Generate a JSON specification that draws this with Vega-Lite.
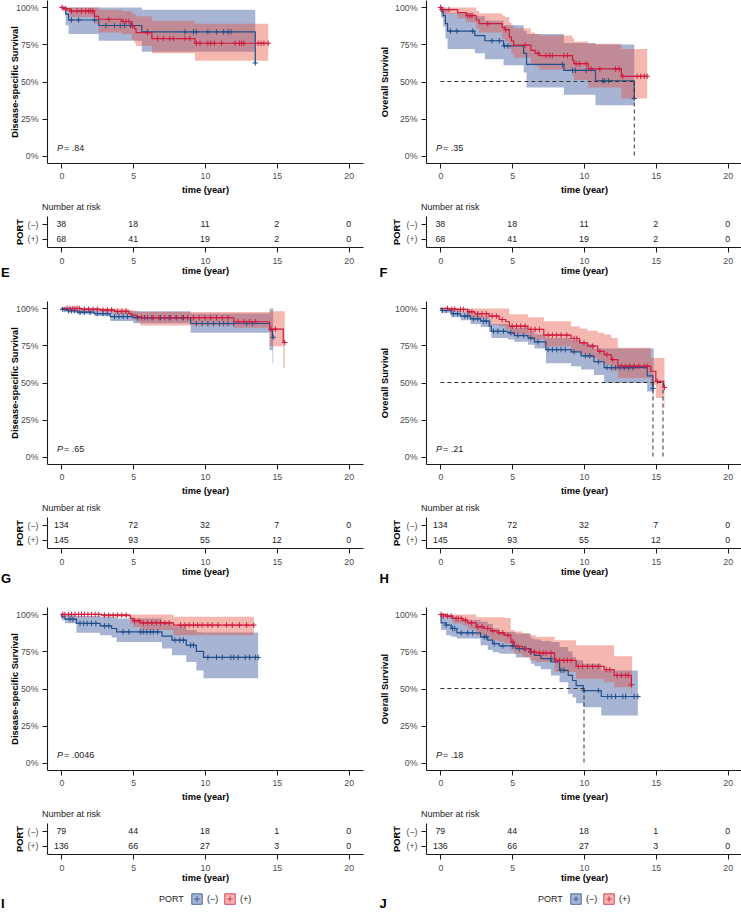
{
"$schema":"https://vega.github.io/schema/vega-lite/v6.json",
"padding":{"left":1,"top":0,"right":0,"bottom":0},
"config":{"font":"Liberation Sans","view":{"stroke":null},
"axis":{"grid":false,"domainColor":"#1a1a1a","domainWidth":1.1,"tickColor":"#1a1a1a","tickWidth":1,"tickSize":5,"labelFontSize":8.8,"labelColor":"#4d4d4d","titleFontSize":9.3,"titleFontWeight":"bold","titleColor":"#000"},
"legend":{"layout":{"bottom":{"anchor":"middle"}}}},
"datasets":{
"km":[
{"p":"E","g":"(−)","t":0,"s":1,"lo":1,"hi":1},{"p":"E","g":"(−)","t":0.3,"s":0.955,"lo":0.88,"hi":1},{"p":"E","g":"(−)","t":0.5,"s":0.915,"lo":0.82,"hi":1},{"p":"E","g":"(−)","t":2.6,"s":0.878,"lo":0.775,"hi":1},{"p":"E","g":"(−)","t":5.6,"s":0.835,"lo":0.70,"hi":0.985},{"p":"E","g":"(−)","t":13.5,"s":0.625,"lo":0.70,"hi":0.985},
{"p":"E","g":"(+)","t":0,"s":1,"lo":1,"hi":1},{"p":"E","g":"(+)","t":0.1,"s":0.99,"lo":0.97,"hi":1},{"p":"E","g":"(+)","t":0.6,"s":0.975,"lo":0.935,"hi":1},{"p":"E","g":"(+)","t":2.3,"s":0.94,"lo":0.89,"hi":1},{"p":"E","g":"(+)","t":2.6,"s":0.92,"lo":0.83,"hi":0.985},{"p":"E","g":"(+)","t":4.2,"s":0.905,"lo":0.82,"hi":0.975},{"p":"E","g":"(+)","t":4.9,"s":0.875,"lo":0.78,"hi":0.96},{"p":"E","g":"(+)","t":5.1,"s":0.855,"lo":0.76,"hi":0.95},{"p":"E","g":"(+)","t":5.2,"s":0.83,"lo":0.74,"hi":0.94},{"p":"E","g":"(+)","t":6.3,"s":0.79,"lo":0.69,"hi":0.91},{"p":"E","g":"(+)","t":9.3,"s":0.758,"lo":0.64,"hi":0.89},{"p":"E","g":"(+)","t":14.4,"s":0.758,"lo":0.64,"hi":0.89},
{"p":"F","g":"(−)","t":0,"s":1,"lo":1,"hi":1},{"p":"F","g":"(−)","t":0.05,"s":0.975,"lo":0.93,"hi":1},{"p":"F","g":"(−)","t":0.2,"s":0.945,"lo":0.87,"hi":1},{"p":"F","g":"(−)","t":0.35,"s":0.89,"lo":0.79,"hi":0.99},{"p":"F","g":"(−)","t":0.5,"s":0.84,"lo":0.72,"hi":0.96},{"p":"F","g":"(−)","t":2.4,"s":0.81,"lo":0.69,"hi":0.94},{"p":"F","g":"(−)","t":3.1,"s":0.775,"lo":0.65,"hi":0.91},{"p":"F","g":"(−)","t":4.4,"s":0.74,"lo":0.61,"hi":0.88},{"p":"F","g":"(−)","t":5.8,"s":0.69,"lo":0.56,"hi":0.84},{"p":"F","g":"(−)","t":6.0,"s":0.615,"lo":0.46,"hi":0.82},{"p":"F","g":"(−)","t":8.6,"s":0.575,"lo":0.41,"hi":0.76},{"p":"F","g":"(−)","t":10.8,"s":0.505,"lo":0.34,"hi":0.75},{"p":"F","g":"(−)","t":13.5,"s":0.385,"lo":0.34,"hi":0.75},
{"p":"F","g":"(+)","t":0,"s":1,"lo":1,"hi":1},{"p":"F","g":"(+)","t":0.1,"s":0.985,"lo":0.955,"hi":1},{"p":"F","g":"(+)","t":1.2,"s":0.965,"lo":0.925,"hi":1},{"p":"F","g":"(+)","t":1.8,"s":0.945,"lo":0.90,"hi":1},{"p":"F","g":"(+)","t":2.5,"s":0.915,"lo":0.86,"hi":0.975},{"p":"F","g":"(+)","t":2.7,"s":0.89,"lo":0.83,"hi":0.96},{"p":"F","g":"(+)","t":4.3,"s":0.865,"lo":0.79,"hi":0.945},{"p":"F","g":"(+)","t":4.5,"s":0.85,"lo":0.77,"hi":0.935},{"p":"F","g":"(+)","t":4.8,"s":0.80,"lo":0.72,"hi":0.90},{"p":"F","g":"(+)","t":4.95,"s":0.775,"lo":0.69,"hi":0.88},{"p":"F","g":"(+)","t":5.1,"s":0.745,"lo":0.66,"hi":0.86},{"p":"F","g":"(+)","t":6.3,"s":0.71,"lo":0.62,"hi":0.83},{"p":"F","g":"(+)","t":6.6,"s":0.69,"lo":0.60,"hi":0.82},{"p":"F","g":"(+)","t":6.9,"s":0.675,"lo":0.58,"hi":0.81},{"p":"F","g":"(+)","t":9.2,"s":0.645,"lo":0.54,"hi":0.79},{"p":"F","g":"(+)","t":9.3,"s":0.62,"lo":0.51,"hi":0.77},{"p":"F","g":"(+)","t":10.3,"s":0.585,"lo":0.46,"hi":0.755},{"p":"F","g":"(+)","t":12.6,"s":0.535,"lo":0.385,"hi":0.72},{"p":"F","g":"(+)","t":14.4,"s":0.535,"lo":0.385,"hi":0.72},
{"p":"G","g":"(−)","t":0,"s":1,"lo":1,"hi":1},{"p":"G","g":"(−)","t":0.05,"s":0.993,"lo":0.985,"hi":1},{"p":"G","g":"(−)","t":0.4,"s":0.985,"lo":0.972,"hi":1},{"p":"G","g":"(−)","t":1.1,"s":0.975,"lo":0.96,"hi":0.995},{"p":"G","g":"(−)","t":2.3,"s":0.965,"lo":0.948,"hi":0.99},{"p":"G","g":"(−)","t":3.4,"s":0.945,"lo":0.915,"hi":0.985},{"p":"G","g":"(−)","t":5.0,"s":0.937,"lo":0.90,"hi":0.98},{"p":"G","g":"(−)","t":9.0,"s":0.898,"lo":0.835,"hi":0.965},{"p":"G","g":"(−)","t":14.5,"s":0.855,"lo":0.72,"hi":1},{"p":"G","g":"(−)","t":14.7,"s":0.805,"lo":0.63,"hi":1},{"p":"G","g":"(−)","t":14.75,"s":0.805,"lo":0.63,"hi":1},
{"p":"G","g":"(+)","t":0,"s":1,"lo":1,"hi":1},{"p":"G","g":"(+)","t":1.4,"s":0.995,"lo":0.985,"hi":1},{"p":"G","g":"(+)","t":2.7,"s":0.99,"lo":0.975,"hi":1},{"p":"G","g":"(+)","t":3.7,"s":0.98,"lo":0.96,"hi":1},{"p":"G","g":"(+)","t":4.7,"s":0.965,"lo":0.94,"hi":0.99},{"p":"G","g":"(+)","t":4.9,"s":0.955,"lo":0.925,"hi":0.985},{"p":"G","g":"(+)","t":5.2,"s":0.945,"lo":0.91,"hi":0.98},{"p":"G","g":"(+)","t":5.5,"s":0.937,"lo":0.885,"hi":0.975},{"p":"G","g":"(+)","t":12.0,"s":0.91,"lo":0.87,"hi":0.975},{"p":"G","g":"(+)","t":14.5,"s":0.86,"lo":0.745,"hi":0.98},{"p":"G","g":"(+)","t":15.45,"s":0.77,"lo":0.60,"hi":0.98},{"p":"G","g":"(+)","t":15.55,"s":0.77,"lo":0.60,"hi":0.98},
{"p":"H","g":"(−)","t":0,"s":1,"lo":1,"hi":1},{"p":"H","g":"(−)","t":0.05,"s":0.986,"lo":0.97,"hi":1},{"p":"H","g":"(−)","t":0.75,"s":0.964,"lo":0.94,"hi":0.99},{"p":"H","g":"(−)","t":1.4,"s":0.948,"lo":0.92,"hi":0.975},{"p":"H","g":"(−)","t":2.1,"s":0.93,"lo":0.895,"hi":0.96},{"p":"H","g":"(−)","t":2.8,"s":0.914,"lo":0.875,"hi":0.95},{"p":"H","g":"(−)","t":3.4,"s":0.88,"lo":0.84,"hi":0.925},{"p":"H","g":"(−)","t":3.55,"s":0.846,"lo":0.80,"hi":0.895},{"p":"H","g":"(−)","t":4.7,"s":0.835,"lo":0.79,"hi":0.885},{"p":"H","g":"(−)","t":5.15,"s":0.817,"lo":0.775,"hi":0.87},{"p":"H","g":"(−)","t":6.1,"s":0.80,"lo":0.755,"hi":0.85},{"p":"H","g":"(−)","t":6.55,"s":0.774,"lo":0.73,"hi":0.825},{"p":"H","g":"(−)","t":7.35,"s":0.722,"lo":0.63,"hi":0.80},{"p":"H","g":"(−)","t":9.1,"s":0.707,"lo":0.61,"hi":0.785},{"p":"H","g":"(−)","t":9.8,"s":0.68,"lo":0.587,"hi":0.76},{"p":"H","g":"(−)","t":10.7,"s":0.64,"lo":0.55,"hi":0.73},{"p":"H","g":"(−)","t":11.4,"s":0.60,"lo":0.497,"hi":0.73},{"p":"H","g":"(−)","t":14.4,"s":0.545,"lo":0.44,"hi":0.73},{"p":"H","g":"(−)","t":14.8,"s":0.46,"lo":0.39,"hi":0.73},{"p":"H","g":"(−)","t":14.85,"s":0.46,"lo":0.39,"hi":0.73},
{"p":"H","g":"(+)","t":0,"s":1,"lo":1,"hi":1},{"p":"H","g":"(+)","t":0.6,"s":0.995,"lo":0.985,"hi":1},{"p":"H","g":"(+)","t":1.2,"s":0.993,"lo":0.975,"hi":1},{"p":"H","g":"(+)","t":1.9,"s":0.977,"lo":0.94,"hi":1},{"p":"H","g":"(+)","t":2.4,"s":0.964,"lo":0.93,"hi":1},{"p":"H","g":"(+)","t":3.4,"s":0.948,"lo":0.89,"hi":1},{"p":"H","g":"(+)","t":4.1,"s":0.925,"lo":0.88,"hi":1},{"p":"H","g":"(+)","t":4.55,"s":0.91,"lo":0.86,"hi":1},{"p":"H","g":"(+)","t":4.8,"s":0.88,"lo":0.824,"hi":0.96},{"p":"H","g":"(+)","t":6.1,"s":0.858,"lo":0.79,"hi":0.94},{"p":"H","g":"(+)","t":7.2,"s":0.82,"lo":0.745,"hi":0.914},{"p":"H","g":"(+)","t":9.1,"s":0.797,"lo":0.71,"hi":0.88},{"p":"H","g":"(+)","t":9.7,"s":0.767,"lo":0.69,"hi":0.865},{"p":"H","g":"(+)","t":10.25,"s":0.745,"lo":0.666,"hi":0.85},{"p":"H","g":"(+)","t":10.95,"s":0.71,"lo":0.64,"hi":0.835},{"p":"H","g":"(+)","t":11.4,"s":0.688,"lo":0.62,"hi":0.824},{"p":"H","g":"(+)","t":11.9,"s":0.655,"lo":0.58,"hi":0.80},{"p":"H","g":"(+)","t":12.35,"s":0.61,"lo":0.53,"hi":0.734},{"p":"H","g":"(+)","t":14.65,"s":0.576,"lo":0.485,"hi":0.666},{"p":"H","g":"(+)","t":15.0,"s":0.508,"lo":0.395,"hi":0.666},{"p":"H","g":"(+)","t":15.55,"s":0.467,"lo":0.327,"hi":0.666},{"p":"H","g":"(+)","t":15.6,"s":0.467,"lo":0.327,"hi":0.666},
{"p":"I","g":"(−)","t":0,"s":1,"lo":1,"hi":1},{"p":"I","g":"(−)","t":0.02,"s":0.984,"lo":0.96,"hi":1},{"p":"I","g":"(−)","t":0.25,"s":0.968,"lo":0.94,"hi":1},{"p":"I","g":"(−)","t":1.05,"s":0.939,"lo":0.876,"hi":0.99},{"p":"I","g":"(−)","t":2.7,"s":0.923,"lo":0.86,"hi":0.985},{"p":"I","g":"(−)","t":3.5,"s":0.905,"lo":0.845,"hi":0.98},{"p":"I","g":"(−)","t":3.85,"s":0.882,"lo":0.814,"hi":0.973},{"p":"I","g":"(−)","t":7.0,"s":0.853,"lo":0.77,"hi":0.95},{"p":"I","g":"(−)","t":7.7,"s":0.826,"lo":0.724,"hi":0.92},{"p":"I","g":"(−)","t":8.7,"s":0.792,"lo":0.679,"hi":0.894},{"p":"I","g":"(−)","t":9.4,"s":0.751,"lo":0.622,"hi":0.88},{"p":"I","g":"(−)","t":9.9,"s":0.71,"lo":0.57,"hi":0.878},{"p":"I","g":"(−)","t":13.7,"s":0.71,"lo":0.57,"hi":0.878},
{"p":"I","g":"(+)","t":0,"s":1,"lo":1,"hi":1},{"p":"I","g":"(+)","t":2.8,"s":0.995,"lo":0.984,"hi":1},{"p":"I","g":"(+)","t":4.8,"s":0.973,"lo":0.939,"hi":1},{"p":"I","g":"(+)","t":5.0,"s":0.957,"lo":0.915,"hi":1},{"p":"I","g":"(+)","t":5.5,"s":0.943,"lo":0.894,"hi":1},{"p":"I","g":"(+)","t":7.8,"s":0.928,"lo":0.86,"hi":0.984},{"p":"I","g":"(+)","t":13.4,"s":0.928,"lo":0.86,"hi":0.984},
{"p":"J","g":"(−)","t":0,"s":1,"lo":1,"hi":1},{"p":"J","g":"(−)","t":0.05,"s":0.943,"lo":0.894,"hi":1},{"p":"J","g":"(−)","t":0.4,"s":0.928,"lo":0.86,"hi":0.99},{"p":"J","g":"(−)","t":0.75,"s":0.905,"lo":0.85,"hi":0.98},{"p":"J","g":"(−)","t":1.15,"s":0.876,"lo":0.837,"hi":0.962},{"p":"J","g":"(−)","t":2.8,"s":0.848,"lo":0.792,"hi":0.95},{"p":"J","g":"(−)","t":3.3,"s":0.826,"lo":0.76,"hi":0.935},{"p":"J","g":"(−)","t":3.65,"s":0.803,"lo":0.745,"hi":0.905},{"p":"J","g":"(−)","t":4.1,"s":0.787,"lo":0.735,"hi":0.882},{"p":"J","g":"(−)","t":5.25,"s":0.769,"lo":0.71,"hi":0.87},{"p":"J","g":"(−)","t":6.3,"s":0.747,"lo":0.667,"hi":0.837},{"p":"J","g":"(−)","t":6.55,"s":0.724,"lo":0.65,"hi":0.83},{"p":"J","g":"(−)","t":7.0,"s":0.701,"lo":0.63,"hi":0.82},{"p":"J","g":"(−)","t":7.7,"s":0.679,"lo":0.588,"hi":0.814},{"p":"J","g":"(−)","t":8.3,"s":0.622,"lo":0.543,"hi":0.78},{"p":"J","g":"(−)","t":8.9,"s":0.588,"lo":0.464,"hi":0.75},{"p":"J","g":"(−)","t":9.2,"s":0.554,"lo":0.44,"hi":0.713},{"p":"J","g":"(−)","t":9.45,"s":0.52,"lo":0.40,"hi":0.69},{"p":"J","g":"(−)","t":9.95,"s":0.486,"lo":0.373,"hi":0.667},{"p":"J","g":"(−)","t":11.2,"s":0.446,"lo":0.317,"hi":0.622},{"p":"J","g":"(−)","t":13.75,"s":0.446,"lo":0.317,"hi":0.622},
{"p":"J","g":"(+)","t":0,"s":1,"lo":1,"hi":1},{"p":"J","g":"(+)","t":0.4,"s":0.989,"lo":0.975,"hi":1},{"p":"J","g":"(+)","t":0.85,"s":0.973,"lo":0.939,"hi":1},{"p":"J","g":"(+)","t":1.55,"s":0.962,"lo":0.925,"hi":1},{"p":"J","g":"(+)","t":1.9,"s":0.943,"lo":0.90,"hi":1},{"p":"J","g":"(+)","t":2.5,"s":0.916,"lo":0.86,"hi":0.98},{"p":"J","g":"(+)","t":3.05,"s":0.905,"lo":0.845,"hi":0.98},{"p":"J","g":"(+)","t":3.5,"s":0.889,"lo":0.825,"hi":0.98},{"p":"J","g":"(+)","t":4.0,"s":0.876,"lo":0.815,"hi":0.98},{"p":"J","g":"(+)","t":4.45,"s":0.86,"lo":0.803,"hi":0.975},{"p":"J","g":"(+)","t":4.9,"s":0.814,"lo":0.758,"hi":0.894},{"p":"J","g":"(+)","t":5.15,"s":0.785,"lo":0.735,"hi":0.885},{"p":"J","g":"(+)","t":5.7,"s":0.769,"lo":0.713,"hi":0.875},{"p":"J","g":"(+)","t":6.2,"s":0.747,"lo":0.69,"hi":0.86},{"p":"J","g":"(+)","t":6.65,"s":0.74,"lo":0.679,"hi":0.85},{"p":"J","g":"(+)","t":7.95,"s":0.69,"lo":0.611,"hi":0.826},{"p":"J","g":"(+)","t":9.45,"s":0.649,"lo":0.566,"hi":0.792},{"p":"J","g":"(+)","t":11.4,"s":0.627,"lo":0.543,"hi":0.792},{"p":"J","g":"(+)","t":12.1,"s":0.588,"lo":0.509,"hi":0.717},{"p":"J","g":"(+)","t":13.3,"s":0.525,"lo":0.464,"hi":0.717},{"p":"J","g":"(+)","t":13.35,"s":0.525,"lo":0.464,"hi":0.717}
],
"cens":[
{"p":"E","g":"(−)","t":0.7,"s":0.915},{"p":"E","g":"(−)","t":1.2,"s":0.915},{"p":"E","g":"(−)","t":2.3,"s":0.915},{"p":"E","g":"(−)","t":3.1,"s":0.878},{"p":"E","g":"(−)","t":3.7,"s":0.878},{"p":"E","g":"(−)","t":4.1,"s":0.878},{"p":"E","g":"(−)","t":4.4,"s":0.878},{"p":"E","g":"(−)","t":4.8,"s":0.878},{"p":"E","g":"(−)","t":4.95,"s":0.878},{"p":"E","g":"(−)","t":6.0,"s":0.835},{"p":"E","g":"(−)","t":8.6,"s":0.835},{"p":"E","g":"(−)","t":9.2,"s":0.835},{"p":"E","g":"(−)","t":9.4,"s":0.835},{"p":"E","g":"(−)","t":10.2,"s":0.835},{"p":"E","g":"(−)","t":10.8,"s":0.835},{"p":"E","g":"(−)","t":11.3,"s":0.835},{"p":"E","g":"(−)","t":11.6,"s":0.835},{"p":"E","g":"(−)","t":11.8,"s":0.835},{"p":"E","g":"(−)","t":13.5,"s":0.625},
{"p":"E","g":"(+)","t":0.05,"s":1},{"p":"E","g":"(+)","t":0.3,"s":0.99},{"p":"E","g":"(+)","t":0.7,"s":0.975},{"p":"E","g":"(+)","t":1.1,"s":0.975},{"p":"E","g":"(+)","t":1.4,"s":0.975},{"p":"E","g":"(+)","t":1.7,"s":0.975},{"p":"E","g":"(+)","t":1.9,"s":0.975},{"p":"E","g":"(+)","t":2.05,"s":0.975},{"p":"E","g":"(+)","t":2.2,"s":0.975},{"p":"E","g":"(+)","t":3.3,"s":0.92},{"p":"E","g":"(+)","t":4.3,"s":0.905},{"p":"E","g":"(+)","t":4.5,"s":0.905},{"p":"E","g":"(+)","t":4.7,"s":0.905},{"p":"E","g":"(+)","t":4.95,"s":0.875},{"p":"E","g":"(+)","t":6.0,"s":0.83},{"p":"E","g":"(+)","t":6.7,"s":0.79},{"p":"E","g":"(+)","t":7.1,"s":0.79},{"p":"E","g":"(+)","t":7.55,"s":0.79},{"p":"E","g":"(+)","t":7.8,"s":0.79},{"p":"E","g":"(+)","t":8.6,"s":0.79},{"p":"E","g":"(+)","t":8.95,"s":0.79},{"p":"E","g":"(+)","t":9.4,"s":0.758},{"p":"E","g":"(+)","t":9.65,"s":0.758},{"p":"E","g":"(+)","t":10.2,"s":0.758},{"p":"E","g":"(+)","t":10.4,"s":0.758},{"p":"E","g":"(+)","t":10.65,"s":0.758},{"p":"E","g":"(+)","t":11.15,"s":0.758},{"p":"E","g":"(+)","t":12.1,"s":0.758},{"p":"E","g":"(+)","t":12.4,"s":0.758},{"p":"E","g":"(+)","t":12.55,"s":0.758},{"p":"E","g":"(+)","t":12.7,"s":0.758},{"p":"E","g":"(+)","t":13.7,"s":0.758},{"p":"E","g":"(+)","t":13.9,"s":0.758},{"p":"E","g":"(+)","t":14.1,"s":0.758},{"p":"E","g":"(+)","t":14.4,"s":0.758},
{"p":"F","g":"(−)","t":0.7,"s":0.84},{"p":"F","g":"(−)","t":1.15,"s":0.84},{"p":"F","g":"(−)","t":2.25,"s":0.84},{"p":"F","g":"(−)","t":3.6,"s":0.775},{"p":"F","g":"(−)","t":4.1,"s":0.775},{"p":"F","g":"(−)","t":4.45,"s":0.74},{"p":"F","g":"(−)","t":4.7,"s":0.74},{"p":"F","g":"(−)","t":8.5,"s":0.615},{"p":"F","g":"(−)","t":9.2,"s":0.575},{"p":"F","g":"(−)","t":9.4,"s":0.575},{"p":"F","g":"(−)","t":10.15,"s":0.575},{"p":"F","g":"(−)","t":11.3,"s":0.505},{"p":"F","g":"(−)","t":11.45,"s":0.505},{"p":"F","g":"(−)","t":11.7,"s":0.505},{"p":"F","g":"(−)","t":13.5,"s":0.385},
{"p":"F","g":"(+)","t":0.02,"s":1},{"p":"F","g":"(+)","t":0.1,"s":0.985},{"p":"F","g":"(+)","t":0.6,"s":0.985},{"p":"F","g":"(+)","t":1.9,"s":0.945},{"p":"F","g":"(+)","t":2.05,"s":0.945},{"p":"F","g":"(+)","t":2.2,"s":0.945},{"p":"F","g":"(+)","t":3.3,"s":0.89},{"p":"F","g":"(+)","t":4.55,"s":0.85},{"p":"F","g":"(+)","t":5.9,"s":0.745},{"p":"F","g":"(+)","t":6.8,"s":0.69},{"p":"F","g":"(+)","t":7.35,"s":0.675},{"p":"F","g":"(+)","t":7.6,"s":0.675},{"p":"F","g":"(+)","t":7.8,"s":0.675},{"p":"F","g":"(+)","t":8.6,"s":0.675},{"p":"F","g":"(+)","t":8.85,"s":0.675},{"p":"F","g":"(+)","t":9.45,"s":0.62},{"p":"F","g":"(+)","t":9.7,"s":0.62},{"p":"F","g":"(+)","t":10.15,"s":0.62},{"p":"F","g":"(+)","t":10.5,"s":0.585},{"p":"F","g":"(+)","t":11.1,"s":0.585},{"p":"F","g":"(+)","t":12.2,"s":0.585},{"p":"F","g":"(+)","t":12.45,"s":0.585},{"p":"F","g":"(+)","t":12.7,"s":0.535},{"p":"F","g":"(+)","t":13.7,"s":0.535},{"p":"F","g":"(+)","t":13.95,"s":0.535},{"p":"F","g":"(+)","t":14.2,"s":0.535},{"p":"F","g":"(+)","t":14.4,"s":0.535},
{"p":"G","g":"(−)","t":0.1,"s":0.993},{"p":"G","g":"(−)","t":0.25,"s":0.993},{"p":"G","g":"(−)","t":0.5,"s":0.985},{"p":"G","g":"(−)","t":0.7,"s":0.985},{"p":"G","g":"(−)","t":0.9,"s":0.985},{"p":"G","g":"(−)","t":1.3,"s":0.975},{"p":"G","g":"(−)","t":1.6,"s":0.975},{"p":"G","g":"(−)","t":2.0,"s":0.975},{"p":"G","g":"(−)","t":2.5,"s":0.965},{"p":"G","g":"(−)","t":2.9,"s":0.965},{"p":"G","g":"(−)","t":3.2,"s":0.965},{"p":"G","g":"(−)","t":3.7,"s":0.945},{"p":"G","g":"(−)","t":4.0,"s":0.945},{"p":"G","g":"(−)","t":4.3,"s":0.945},{"p":"G","g":"(−)","t":4.6,"s":0.945},{"p":"G","g":"(−)","t":5.3,"s":0.937},{"p":"G","g":"(−)","t":5.8,"s":0.937},{"p":"G","g":"(−)","t":6.3,"s":0.937},{"p":"G","g":"(−)","t":6.9,"s":0.937},{"p":"G","g":"(−)","t":7.5,"s":0.937},{"p":"G","g":"(−)","t":8.0,"s":0.937},{"p":"G","g":"(−)","t":8.5,"s":0.937},{"p":"G","g":"(−)","t":9.4,"s":0.898},{"p":"G","g":"(−)","t":9.8,"s":0.898},{"p":"G","g":"(−)","t":10.2,"s":0.898},{"p":"G","g":"(−)","t":10.6,"s":0.898},{"p":"G","g":"(−)","t":11.0,"s":0.898},{"p":"G","g":"(−)","t":11.3,"s":0.898},{"p":"G","g":"(−)","t":11.6,"s":0.898},{"p":"G","g":"(−)","t":12.0,"s":0.898},{"p":"G","g":"(−)","t":12.9,"s":0.898},{"p":"G","g":"(−)","t":13.3,"s":0.898},{"p":"G","g":"(−)","t":14.75,"s":0.805},
{"p":"G","g":"(+)","t":0.4,"s":1},{"p":"G","g":"(+)","t":0.6,"s":1},{"p":"G","g":"(+)","t":0.8,"s":1},{"p":"G","g":"(+)","t":0.95,"s":1},{"p":"G","g":"(+)","t":1.1,"s":1},{"p":"G","g":"(+)","t":1.25,"s":1},{"p":"G","g":"(+)","t":1.6,"s":0.995},{"p":"G","g":"(+)","t":1.9,"s":0.995},{"p":"G","g":"(+)","t":2.2,"s":0.995},{"p":"G","g":"(+)","t":2.5,"s":0.995},{"p":"G","g":"(+)","t":2.9,"s":0.99},{"p":"G","g":"(+)","t":3.2,"s":0.99},{"p":"G","g":"(+)","t":3.5,"s":0.99},{"p":"G","g":"(+)","t":3.9,"s":0.98},{"p":"G","g":"(+)","t":4.2,"s":0.98},{"p":"G","g":"(+)","t":4.5,"s":0.98},{"p":"G","g":"(+)","t":5.6,"s":0.937},{"p":"G","g":"(+)","t":6.0,"s":0.937},{"p":"G","g":"(+)","t":6.4,"s":0.937},{"p":"G","g":"(+)","t":6.8,"s":0.937},{"p":"G","g":"(+)","t":7.2,"s":0.937},{"p":"G","g":"(+)","t":7.6,"s":0.937},{"p":"G","g":"(+)","t":8.0,"s":0.937},{"p":"G","g":"(+)","t":8.4,"s":0.937},{"p":"G","g":"(+)","t":8.8,"s":0.937},{"p":"G","g":"(+)","t":9.2,"s":0.937},{"p":"G","g":"(+)","t":9.6,"s":0.937},{"p":"G","g":"(+)","t":10.0,"s":0.937},{"p":"G","g":"(+)","t":10.4,"s":0.937},{"p":"G","g":"(+)","t":10.8,"s":0.937},{"p":"G","g":"(+)","t":11.2,"s":0.937},{"p":"G","g":"(+)","t":11.6,"s":0.937},{"p":"G","g":"(+)","t":12.3,"s":0.91},{"p":"G","g":"(+)","t":12.7,"s":0.91},{"p":"G","g":"(+)","t":13.1,"s":0.91},{"p":"G","g":"(+)","t":13.5,"s":0.91},{"p":"G","g":"(+)","t":14.6,"s":0.86},{"p":"G","g":"(+)","t":14.9,"s":0.86},{"p":"G","g":"(+)","t":15.55,"s":0.77},
{"p":"H","g":"(−)","t":0.15,"s":0.986},{"p":"H","g":"(−)","t":0.4,"s":0.986},{"p":"H","g":"(−)","t":0.9,"s":0.964},{"p":"H","g":"(−)","t":1.2,"s":0.964},{"p":"H","g":"(−)","t":1.7,"s":0.948},{"p":"H","g":"(−)","t":1.9,"s":0.948},{"p":"H","g":"(−)","t":2.3,"s":0.93},{"p":"H","g":"(−)","t":2.6,"s":0.93},{"p":"H","g":"(−)","t":3.0,"s":0.914},{"p":"H","g":"(−)","t":3.2,"s":0.914},{"p":"H","g":"(−)","t":3.7,"s":0.846},{"p":"H","g":"(−)","t":4.0,"s":0.846},{"p":"H","g":"(−)","t":4.4,"s":0.846},{"p":"H","g":"(−)","t":4.9,"s":0.835},{"p":"H","g":"(−)","t":5.4,"s":0.817},{"p":"H","g":"(−)","t":5.8,"s":0.817},{"p":"H","g":"(−)","t":6.3,"s":0.80},{"p":"H","g":"(−)","t":6.8,"s":0.774},{"p":"H","g":"(−)","t":7.5,"s":0.722},{"p":"H","g":"(−)","t":7.8,"s":0.722},{"p":"H","g":"(−)","t":8.1,"s":0.722},{"p":"H","g":"(−)","t":8.4,"s":0.722},{"p":"H","g":"(−)","t":8.7,"s":0.722},{"p":"H","g":"(−)","t":9.3,"s":0.707},{"p":"H","g":"(−)","t":10.1,"s":0.68},{"p":"H","g":"(−)","t":10.4,"s":0.68},{"p":"H","g":"(−)","t":11.0,"s":0.64},{"p":"H","g":"(−)","t":11.6,"s":0.60},{"p":"H","g":"(−)","t":11.9,"s":0.60},{"p":"H","g":"(−)","t":12.2,"s":0.60},{"p":"H","g":"(−)","t":12.5,"s":0.60},{"p":"H","g":"(−)","t":12.8,"s":0.60},{"p":"H","g":"(−)","t":13.1,"s":0.60},{"p":"H","g":"(−)","t":13.4,"s":0.60},{"p":"H","g":"(−)","t":14.8,"s":0.46},
{"p":"H","g":"(+)","t":0.5,"s":1},{"p":"H","g":"(+)","t":0.8,"s":0.995},{"p":"H","g":"(+)","t":1.0,"s":0.995},{"p":"H","g":"(+)","t":1.4,"s":0.993},{"p":"H","g":"(+)","t":1.6,"s":0.993},{"p":"H","g":"(+)","t":2.0,"s":0.977},{"p":"H","g":"(+)","t":2.2,"s":0.977},{"p":"H","g":"(+)","t":2.6,"s":0.964},{"p":"H","g":"(+)","t":2.9,"s":0.964},{"p":"H","g":"(+)","t":3.2,"s":0.964},{"p":"H","g":"(+)","t":3.6,"s":0.948},{"p":"H","g":"(+)","t":3.9,"s":0.948},{"p":"H","g":"(+)","t":4.3,"s":0.925},{"p":"H","g":"(+)","t":5.0,"s":0.88},{"p":"H","g":"(+)","t":5.3,"s":0.88},{"p":"H","g":"(+)","t":5.6,"s":0.88},{"p":"H","g":"(+)","t":5.9,"s":0.88},{"p":"H","g":"(+)","t":6.3,"s":0.858},{"p":"H","g":"(+)","t":6.6,"s":0.858},{"p":"H","g":"(+)","t":6.9,"s":0.858},{"p":"H","g":"(+)","t":7.5,"s":0.82},{"p":"H","g":"(+)","t":7.8,"s":0.82},{"p":"H","g":"(+)","t":8.1,"s":0.82},{"p":"H","g":"(+)","t":8.4,"s":0.82},{"p":"H","g":"(+)","t":8.8,"s":0.82},{"p":"H","g":"(+)","t":9.3,"s":0.797},{"p":"H","g":"(+)","t":9.5,"s":0.797},{"p":"H","g":"(+)","t":10.0,"s":0.767},{"p":"H","g":"(+)","t":10.6,"s":0.745},{"p":"H","g":"(+)","t":11.1,"s":0.71},{"p":"H","g":"(+)","t":11.6,"s":0.688},{"p":"H","g":"(+)","t":12.0,"s":0.655},{"p":"H","g":"(+)","t":12.6,"s":0.61},{"p":"H","g":"(+)","t":12.9,"s":0.61},{"p":"H","g":"(+)","t":13.2,"s":0.61},{"p":"H","g":"(+)","t":13.5,"s":0.61},{"p":"H","g":"(+)","t":13.8,"s":0.61},{"p":"H","g":"(+)","t":14.2,"s":0.61},{"p":"H","g":"(+)","t":14.4,"s":0.61},{"p":"H","g":"(+)","t":15.1,"s":0.508},{"p":"H","g":"(+)","t":15.6,"s":0.467},
{"p":"I","g":"(−)","t":0.6,"s":0.968},{"p":"I","g":"(−)","t":0.8,"s":0.968},{"p":"I","g":"(−)","t":1.3,"s":0.939},{"p":"I","g":"(−)","t":1.55,"s":0.939},{"p":"I","g":"(−)","t":1.8,"s":0.939},{"p":"I","g":"(−)","t":2.1,"s":0.939},{"p":"I","g":"(−)","t":2.4,"s":0.939},{"p":"I","g":"(−)","t":3.0,"s":0.923},{"p":"I","g":"(−)","t":3.3,"s":0.923},{"p":"I","g":"(−)","t":4.3,"s":0.882},{"p":"I","g":"(−)","t":4.7,"s":0.882},{"p":"I","g":"(−)","t":5.5,"s":0.882},{"p":"I","g":"(−)","t":5.7,"s":0.882},{"p":"I","g":"(−)","t":5.95,"s":0.882},{"p":"I","g":"(−)","t":6.2,"s":0.882},{"p":"I","g":"(−)","t":6.4,"s":0.882},{"p":"I","g":"(−)","t":6.7,"s":0.882},{"p":"I","g":"(−)","t":7.9,"s":0.826},{"p":"I","g":"(−)","t":8.25,"s":0.826},{"p":"I","g":"(−)","t":8.5,"s":0.826},{"p":"I","g":"(−)","t":9.0,"s":0.792},{"p":"I","g":"(−)","t":9.2,"s":0.792},{"p":"I","g":"(−)","t":10.2,"s":0.71},{"p":"I","g":"(−)","t":10.8,"s":0.71},{"p":"I","g":"(−)","t":11.2,"s":0.71},{"p":"I","g":"(−)","t":11.8,"s":0.71},{"p":"I","g":"(−)","t":12.0,"s":0.71},{"p":"I","g":"(−)","t":12.3,"s":0.71},{"p":"I","g":"(−)","t":12.8,"s":0.71},{"p":"I","g":"(−)","t":13.1,"s":0.71},{"p":"I","g":"(−)","t":13.5,"s":0.71},{"p":"I","g":"(−)","t":13.7,"s":0.71},
{"p":"I","g":"(+)","t":0.1,"s":1},{"p":"I","g":"(+)","t":0.25,"s":1},{"p":"I","g":"(+)","t":0.5,"s":1},{"p":"I","g":"(+)","t":0.7,"s":1},{"p":"I","g":"(+)","t":0.95,"s":1},{"p":"I","g":"(+)","t":1.2,"s":1},{"p":"I","g":"(+)","t":1.4,"s":1},{"p":"I","g":"(+)","t":1.6,"s":1},{"p":"I","g":"(+)","t":1.85,"s":1},{"p":"I","g":"(+)","t":2.1,"s":1},{"p":"I","g":"(+)","t":2.35,"s":1},{"p":"I","g":"(+)","t":2.6,"s":1},{"p":"I","g":"(+)","t":3.0,"s":0.995},{"p":"I","g":"(+)","t":3.3,"s":0.995},{"p":"I","g":"(+)","t":3.6,"s":0.995},{"p":"I","g":"(+)","t":3.9,"s":0.995},{"p":"I","g":"(+)","t":4.2,"s":0.995},{"p":"I","g":"(+)","t":4.5,"s":0.995},{"p":"I","g":"(+)","t":5.1,"s":0.957},{"p":"I","g":"(+)","t":5.4,"s":0.957},{"p":"I","g":"(+)","t":5.7,"s":0.943},{"p":"I","g":"(+)","t":6.0,"s":0.943},{"p":"I","g":"(+)","t":6.3,"s":0.943},{"p":"I","g":"(+)","t":6.6,"s":0.943},{"p":"I","g":"(+)","t":6.9,"s":0.943},{"p":"I","g":"(+)","t":7.2,"s":0.943},{"p":"I","g":"(+)","t":7.5,"s":0.943},{"p":"I","g":"(+)","t":8.3,"s":0.928},{"p":"I","g":"(+)","t":8.6,"s":0.928},{"p":"I","g":"(+)","t":8.9,"s":0.928},{"p":"I","g":"(+)","t":9.2,"s":0.928},{"p":"I","g":"(+)","t":9.5,"s":0.928},{"p":"I","g":"(+)","t":9.8,"s":0.928},{"p":"I","g":"(+)","t":10.2,"s":0.928},{"p":"I","g":"(+)","t":10.5,"s":0.928},{"p":"I","g":"(+)","t":10.9,"s":0.928},{"p":"I","g":"(+)","t":11.5,"s":0.928},{"p":"I","g":"(+)","t":11.9,"s":0.928},{"p":"I","g":"(+)","t":12.4,"s":0.928},{"p":"I","g":"(+)","t":12.9,"s":0.928},{"p":"I","g":"(+)","t":13.4,"s":0.928},
{"p":"J","g":"(−)","t":0.4,"s":0.928},{"p":"J","g":"(−)","t":0.85,"s":0.905},{"p":"J","g":"(−)","t":1.0,"s":0.905},{"p":"J","g":"(−)","t":1.45,"s":0.876},{"p":"J","g":"(−)","t":1.9,"s":0.876},{"p":"J","g":"(−)","t":2.25,"s":0.876},{"p":"J","g":"(−)","t":3.05,"s":0.848},{"p":"J","g":"(−)","t":3.2,"s":0.848},{"p":"J","g":"(−)","t":3.75,"s":0.803},{"p":"J","g":"(−)","t":4.35,"s":0.787},{"p":"J","g":"(−)","t":5.05,"s":0.787},{"p":"J","g":"(−)","t":5.5,"s":0.769},{"p":"J","g":"(−)","t":5.85,"s":0.769},{"p":"J","g":"(−)","t":6.3,"s":0.747},{"p":"J","g":"(−)","t":7.7,"s":0.701},{"p":"J","g":"(−)","t":8.4,"s":0.622},{"p":"J","g":"(−)","t":8.6,"s":0.622},{"p":"J","g":"(−)","t":10.0,"s":0.486},{"p":"J","g":"(−)","t":11.0,"s":0.486},{"p":"J","g":"(−)","t":11.65,"s":0.446},{"p":"J","g":"(−)","t":11.9,"s":0.446},{"p":"J","g":"(−)","t":12.2,"s":0.446},{"p":"J","g":"(−)","t":12.7,"s":0.446},{"p":"J","g":"(−)","t":12.9,"s":0.446},{"p":"J","g":"(−)","t":13.5,"s":0.446},{"p":"J","g":"(−)","t":13.75,"s":0.446},
{"p":"J","g":"(+)","t":0.05,"s":1},{"p":"J","g":"(+)","t":0.2,"s":0.989},{"p":"J","g":"(+)","t":0.5,"s":0.989},{"p":"J","g":"(+)","t":0.75,"s":0.989},{"p":"J","g":"(+)","t":1.1,"s":0.973},{"p":"J","g":"(+)","t":1.25,"s":0.973},{"p":"J","g":"(+)","t":1.45,"s":0.973},{"p":"J","g":"(+)","t":1.75,"s":0.962},{"p":"J","g":"(+)","t":2.15,"s":0.943},{"p":"J","g":"(+)","t":2.6,"s":0.916},{"p":"J","g":"(+)","t":2.9,"s":0.916},{"p":"J","g":"(+)","t":3.3,"s":0.905},{"p":"J","g":"(+)","t":3.65,"s":0.889},{"p":"J","g":"(+)","t":4.1,"s":0.876},{"p":"J","g":"(+)","t":4.35,"s":0.876},{"p":"J","g":"(+)","t":4.7,"s":0.86},{"p":"J","g":"(+)","t":5.05,"s":0.814},{"p":"J","g":"(+)","t":5.4,"s":0.785},{"p":"J","g":"(+)","t":5.95,"s":0.769},{"p":"J","g":"(+)","t":6.3,"s":0.747},{"p":"J","g":"(+)","t":6.55,"s":0.747},{"p":"J","g":"(+)","t":6.9,"s":0.74},{"p":"J","g":"(+)","t":7.15,"s":0.74},{"p":"J","g":"(+)","t":7.35,"s":0.74},{"p":"J","g":"(+)","t":7.7,"s":0.74},{"p":"J","g":"(+)","t":8.05,"s":0.69},{"p":"J","g":"(+)","t":8.3,"s":0.69},{"p":"J","g":"(+)","t":8.6,"s":0.69},{"p":"J","g":"(+)","t":8.85,"s":0.69},{"p":"J","g":"(+)","t":9.1,"s":0.69},{"p":"J","g":"(+)","t":9.6,"s":0.649},{"p":"J","g":"(+)","t":9.9,"s":0.649},{"p":"J","g":"(+)","t":10.25,"s":0.649},{"p":"J","g":"(+)","t":10.6,"s":0.649},{"p":"J","g":"(+)","t":11.0,"s":0.649},{"p":"J","g":"(+)","t":11.55,"s":0.627},{"p":"J","g":"(+)","t":11.8,"s":0.627},{"p":"J","g":"(+)","t":12.3,"s":0.588},{"p":"J","g":"(+)","t":12.6,"s":0.588},{"p":"J","g":"(+)","t":12.9,"s":0.588},{"p":"J","g":"(+)","t":13.1,"s":0.588},{"p":"J","g":"(+)","t":13.3,"s":0.525}
],
"risk":[
{"p":"E","g":"(−)","t":0,"n":38},{"p":"E","g":"(−)","t":5,"n":18},{"p":"E","g":"(−)","t":10,"n":11},{"p":"E","g":"(−)","t":15,"n":2},{"p":"E","g":"(−)","t":20,"n":0},
{"p":"E","g":"(+)","t":0,"n":68},{"p":"E","g":"(+)","t":5,"n":41},{"p":"E","g":"(+)","t":10,"n":19},{"p":"E","g":"(+)","t":15,"n":2},{"p":"E","g":"(+)","t":20,"n":0},
{"p":"F","g":"(−)","t":0,"n":38},{"p":"F","g":"(−)","t":5,"n":18},{"p":"F","g":"(−)","t":10,"n":11},{"p":"F","g":"(−)","t":15,"n":2},{"p":"F","g":"(−)","t":20,"n":0},
{"p":"F","g":"(+)","t":0,"n":68},{"p":"F","g":"(+)","t":5,"n":41},{"p":"F","g":"(+)","t":10,"n":19},{"p":"F","g":"(+)","t":15,"n":2},{"p":"F","g":"(+)","t":20,"n":0},
{"p":"G","g":"(−)","t":0,"n":134},{"p":"G","g":"(−)","t":5,"n":72},{"p":"G","g":"(−)","t":10,"n":32},{"p":"G","g":"(−)","t":15,"n":7},{"p":"G","g":"(−)","t":20,"n":0},
{"p":"G","g":"(+)","t":0,"n":145},{"p":"G","g":"(+)","t":5,"n":93},{"p":"G","g":"(+)","t":10,"n":55},{"p":"G","g":"(+)","t":15,"n":12},{"p":"G","g":"(+)","t":20,"n":0},
{"p":"H","g":"(−)","t":0,"n":134},{"p":"H","g":"(−)","t":5,"n":72},{"p":"H","g":"(−)","t":10,"n":32},{"p":"H","g":"(−)","t":15,"n":7},{"p":"H","g":"(−)","t":20,"n":0},
{"p":"H","g":"(+)","t":0,"n":145},{"p":"H","g":"(+)","t":5,"n":93},{"p":"H","g":"(+)","t":10,"n":55},{"p":"H","g":"(+)","t":15,"n":12},{"p":"H","g":"(+)","t":20,"n":0},
{"p":"I","g":"(−)","t":0,"n":79},{"p":"I","g":"(−)","t":5,"n":44},{"p":"I","g":"(−)","t":10,"n":18},{"p":"I","g":"(−)","t":15,"n":1},{"p":"I","g":"(−)","t":20,"n":0},
{"p":"I","g":"(+)","t":0,"n":136},{"p":"I","g":"(+)","t":5,"n":66},{"p":"I","g":"(+)","t":10,"n":27},{"p":"I","g":"(+)","t":15,"n":3},{"p":"I","g":"(+)","t":20,"n":0},
{"p":"J","g":"(−)","t":0,"n":79},{"p":"J","g":"(−)","t":5,"n":44},{"p":"J","g":"(−)","t":10,"n":18},{"p":"J","g":"(−)","t":15,"n":1},{"p":"J","g":"(−)","t":20,"n":0},
{"p":"J","g":"(+)","t":0,"n":136},{"p":"J","g":"(+)","t":5,"n":66},{"p":"J","g":"(+)","t":10,"n":27},{"p":"J","g":"(+)","t":15,"n":3},{"p":"J","g":"(+)","t":20,"n":0}
],
"pv":[{"p":"E","txt":"= .84"},{"p":"F","txt":"= .35"},{"p":"G","txt":"= .65"},{"p":"H","txt":"= .21"},{"p":"I","txt":"= .0046"},{"p":"J","txt":"= .18"}],
"med":[{"p":"F","x1":0,"y1":0.5,"x2":13.5,"y2":0.5},{"p":"F","x1":13.5,"y1":0.5,"x2":13.5,"y2":0},
{"p":"H","x1":0,"y1":0.5,"x2":15.5,"y2":0.5},{"p":"H","x1":14.8,"y1":0.5,"x2":14.8,"y2":0},{"p":"H","x1":15.5,"y1":0.5,"x2":15.5,"y2":0},
{"p":"J","x1":0,"y1":0.5,"x2":10,"y2":0.5},{"p":"J","x1":10,"y1":0.5,"x2":10,"y2":0}]
},
"resolve":{"scale":{"fill":"independent","stroke":"independent"},"legend":{"fill":"independent","stroke":"independent"}},
"spacing":20,
"vconcat":[
{"hconcat":[
 {"title":{"text":"E","orient":"bottom","anchor":"start","frame":"bounds","dx":-9,"offset":-9,"fontSize":13,"fontWeight":"bold","color":"#000"},
  "spacing":7,"vconcat":[
  {"width":316,"height":163,"layer":[
   {"data":{"name":"km"},"transform":[{"filter":"datum.p === 'E'"}],"mark":{"type":"area","interpolate":"step-after","opacity":0.4},"encoding":{"x":{"field":"t","type":"quantitative","title":"time (year)","scale":{"domain":[-1,21],"nice":false,"zero":false},"axis":{"values":[0,5,10,15,20],"labelPadding":3,"titlePadding":6}},"y":{"field":"lo","type":"quantitative","title":"Disease-specific Survival","scale":{"domain":[-0.05,1.05],"nice":false,"zero":false},"axis":{"values":[0,0.25,0.5,0.75,1],"format":".0%","labelPadding":4,"titlePadding":-3.5}},"y2":{"field":"hi"},"fill":{"field":"g","type":"nominal","scale":{"domain":["(−)","(+)"],"range":["#254493","#e34d39"]},"legend":null}}},
   {"data":{"name":"km"},"transform":[{"filter":"datum.p === 'E'"}],"mark":{"type":"line","interpolate":"step-after","strokeWidth":1.2},"encoding":{"x":{"field":"t","type":"quantitative","title":"time (year)"},"y":{"field":"s","type":"quantitative","title":"Disease-specific Survival"},"stroke":{"field":"g","type":"nominal","scale":{"domain":["(−)","(+)"],"range":["#20508c","#d11a3f"]},"legend":null}}},
   {"data":{"name":"cens"},"transform":[{"filter":"datum.p === 'E'"}],"mark":{"type":"point","shape":"M-1,0H1M0,-1V1","size":30,"strokeWidth":1,"filled":false,"opacity":1},"encoding":{"x":{"field":"t","type":"quantitative","title":"time (year)"},"y":{"field":"s","type":"quantitative","title":"Disease-specific Survival"},"stroke":{"field":"g","type":"nominal","scale":{"domain":["(−)","(+)"],"range":["#20508c","#d11a3f"]},"legend":null}}},
   {"data":{"name":"pv"},"transform":[{"filter":"datum.p === 'E'"}],"mark":{"type":"text","text":"P","fontStyle":"italic","align":"left","baseline":"middle","fontSize":9,"color":"#222"},"encoding":{"x":{"datum":-0.3,"type":"quantitative","title":"time (year)"},"y":{"datum":0.05,"type":"quantitative","title":"Disease-specific Survival"}}},
   {"data":{"name":"pv"},"transform":[{"filter":"datum.p === 'E'"}],"mark":{"type":"text","align":"left","baseline":"middle","fontSize":9,"dx":7,"color":"#222"},"encoding":{"x":{"datum":-0.3,"type":"quantitative","title":"time (year)"},"y":{"datum":0.05,"type":"quantitative","title":"Disease-specific Survival"},"text":{"field":"txt"}}}
  ]},
  {"width":316,"height":31,"title":{"text":"Number at risk","anchor":"start","frame":"group","dx":-5,"offset":4,"fontSize":9,"fontWeight":"normal","color":"#222"},
   "data":{"name":"risk"},"transform":[{"filter":"datum.p === 'E'"}],"mark":{"type":"text","fontSize":8.8,"color":"#222"},
   "encoding":{"x":{"field":"t","type":"quantitative","title":"time (year)","scale":{"domain":[-1,21],"nice":false,"zero":false},"axis":{"values":[0,5,10,15,20],"labelPadding":4.5,"titlePadding":1.5}},"y":{"field":"g","type":"nominal","title":"PORT","scale":{"type":"point","domain":["(−)","(+)"],"padding":0.6},"axis":{"labelPadding":4,"titlePadding":3,"labelColor":"#4d4d4d"}},"text":{"field":"n"}}}
 ]},
 {"title":{"text":"F","orient":"bottom","anchor":"start","frame":"bounds","dx":-1,"offset":-9,"fontSize":13,"fontWeight":"bold","color":"#000"},
  "spacing":7,"vconcat":[
  {"width":316,"height":163,"layer":[
   {"data":{"name":"km"},"transform":[{"filter":"datum.p === 'F'"}],"mark":{"type":"area","interpolate":"step-after","opacity":0.4},"encoding":{"x":{"field":"t","type":"quantitative","title":"time (year)","scale":{"domain":[-1,21],"nice":false,"zero":false},"axis":{"values":[0,5,10,15,20],"labelPadding":3,"titlePadding":6}},"y":{"field":"lo","type":"quantitative","title":"Overall Survival","scale":{"domain":[-0.05,1.05],"nice":false,"zero":false},"axis":{"values":[0,0.25,0.5,0.75,1],"format":".0%","labelPadding":4,"titlePadding":5}},"y2":{"field":"hi"},"fill":{"field":"g","type":"nominal","scale":{"domain":["(−)","(+)"],"range":["#254493","#e34d39"]},"legend":null}}},
   {"data":{"name":"km"},"transform":[{"filter":"datum.p === 'F'"}],"mark":{"type":"line","interpolate":"step-after","strokeWidth":1.2},"encoding":{"x":{"field":"t","type":"quantitative","title":"time (year)"},"y":{"field":"s","type":"quantitative","title":"Overall Survival"},"stroke":{"field":"g","type":"nominal","scale":{"domain":["(−)","(+)"],"range":["#20508c","#d11a3f"]},"legend":null}}},
   {"data":{"name":"cens"},"transform":[{"filter":"datum.p === 'F'"}],"mark":{"type":"point","shape":"M-1,0H1M0,-1V1","size":30,"strokeWidth":1,"filled":false,"opacity":1},"encoding":{"x":{"field":"t","type":"quantitative","title":"time (year)"},"y":{"field":"s","type":"quantitative","title":"Overall Survival"},"stroke":{"field":"g","type":"nominal","scale":{"domain":["(−)","(+)"],"range":["#20508c","#d11a3f"]},"legend":null}}},
   {"data":{"name":"med"},"transform":[{"filter":"datum.p === 'F'"}],"mark":{"type":"rule","strokeDash":[4,3],"strokeWidth":1,"color":"#333"},"encoding":{"x":{"field":"x1","type":"quantitative","title":"time (year)"},"y":{"field":"y1","type":"quantitative","title":"Overall Survival"},"x2":{"field":"x2"},"y2":{"field":"y2"}}},
   {"data":{"name":"pv"},"transform":[{"filter":"datum.p === 'F'"}],"mark":{"type":"text","text":"P","fontStyle":"italic","align":"left","baseline":"middle","fontSize":9,"color":"#222"},"encoding":{"x":{"datum":-0.3,"type":"quantitative","title":"time (year)"},"y":{"datum":0.05,"type":"quantitative","title":"Overall Survival"}}},
   {"data":{"name":"pv"},"transform":[{"filter":"datum.p === 'F'"}],"mark":{"type":"text","align":"left","baseline":"middle","fontSize":9,"dx":7,"color":"#222"},"encoding":{"x":{"datum":-0.3,"type":"quantitative","title":"time (year)"},"y":{"datum":0.05,"type":"quantitative","title":"Overall Survival"},"text":{"field":"txt"}}}
  ]},
  {"width":316,"height":31,"title":{"text":"Number at risk","anchor":"start","frame":"group","dx":-5,"offset":4,"fontSize":9,"fontWeight":"normal","color":"#222"},
   "data":{"name":"risk"},"transform":[{"filter":"datum.p === 'F'"}],"mark":{"type":"text","fontSize":8.8,"color":"#222"},
   "encoding":{"x":{"field":"t","type":"quantitative","title":"time (year)","scale":{"domain":[-1,21],"nice":false,"zero":false},"axis":{"values":[0,5,10,15,20],"labelPadding":4.5,"titlePadding":1.5}},"y":{"field":"g","type":"nominal","title":"PORT","scale":{"type":"point","domain":["(−)","(+)"],"padding":0.6},"axis":{"labelPadding":4,"titlePadding":4.5,"labelColor":"#4d4d4d"}},"text":{"field":"n"}}}
 ]}
],"spacing":16},
{"hconcat":[
 {"title":{"text":"G","orient":"bottom","anchor":"start","frame":"bounds","dx":-9,"offset":-4,"fontSize":13,"fontWeight":"bold","color":"#000"},
  "spacing":7,"vconcat":[
  {"width":316,"height":163,"layer":[
   {"data":{"name":"km"},"transform":[{"filter":"datum.p === 'G'"}],"mark":{"type":"area","interpolate":"step-after","opacity":0.4},"encoding":{"x":{"field":"t","type":"quantitative","title":"time (year)","scale":{"domain":[-1,21],"nice":false,"zero":false},"axis":{"values":[0,5,10,15,20],"labelPadding":3,"titlePadding":6}},"y":{"field":"lo","type":"quantitative","title":"Disease-specific Survival","scale":{"domain":[-0.05,1.05],"nice":false,"zero":false},"axis":{"values":[0,0.25,0.5,0.75,1],"format":".0%","labelPadding":4,"titlePadding":-3.5}},"y2":{"field":"hi"},"fill":{"field":"g","type":"nominal","scale":{"domain":["(−)","(+)"],"range":["#254493","#e34d39"]},"legend":null}}},
   {"data":{"name":"km"},"transform":[{"filter":"datum.p === 'G'"}],"mark":{"type":"line","interpolate":"step-after","strokeWidth":1.2},"encoding":{"x":{"field":"t","type":"quantitative","title":"time (year)"},"y":{"field":"s","type":"quantitative","title":"Disease-specific Survival"},"stroke":{"field":"g","type":"nominal","scale":{"domain":["(−)","(+)"],"range":["#20508c","#d11a3f"]},"legend":null}}},
   {"data":{"name":"cens"},"transform":[{"filter":"datum.p === 'G'"}],"mark":{"type":"point","shape":"M-1,0H1M0,-1V1","size":30,"strokeWidth":1,"filled":false,"opacity":1},"encoding":{"x":{"field":"t","type":"quantitative","title":"time (year)"},"y":{"field":"s","type":"quantitative","title":"Disease-specific Survival"},"stroke":{"field":"g","type":"nominal","scale":{"domain":["(−)","(+)"],"range":["#20508c","#d11a3f"]},"legend":null}}},
   {"data":{"name":"pv"},"transform":[{"filter":"datum.p === 'G'"}],"mark":{"type":"text","text":"P","fontStyle":"italic","align":"left","baseline":"middle","fontSize":9,"color":"#222"},"encoding":{"x":{"datum":-0.3,"type":"quantitative","title":"time (year)"},"y":{"datum":0.05,"type":"quantitative","title":"Disease-specific Survival"}}},
   {"data":{"name":"pv"},"transform":[{"filter":"datum.p === 'G'"}],"mark":{"type":"text","align":"left","baseline":"middle","fontSize":9,"dx":7,"color":"#222"},"encoding":{"x":{"datum":-0.3,"type":"quantitative","title":"time (year)"},"y":{"datum":0.05,"type":"quantitative","title":"Disease-specific Survival"},"text":{"field":"txt"}}}
  ]},
  {"width":316,"height":31,"title":{"text":"Number at risk","anchor":"start","frame":"group","dx":-5,"offset":4,"fontSize":9,"fontWeight":"normal","color":"#222"},
   "data":{"name":"risk"},"transform":[{"filter":"datum.p === 'G'"}],"mark":{"type":"text","fontSize":8.8,"color":"#222"},
   "encoding":{"x":{"field":"t","type":"quantitative","title":"time (year)","scale":{"domain":[-1,21],"nice":false,"zero":false},"axis":{"values":[0,5,10,15,20],"labelPadding":4.5,"titlePadding":1.5}},"y":{"field":"g","type":"nominal","title":"PORT","scale":{"type":"point","domain":["(−)","(+)"],"padding":0.6},"axis":{"labelPadding":4,"titlePadding":3,"labelColor":"#4d4d4d"}},"text":{"field":"n"}}}
 ]},
 {"title":{"text":"H","orient":"bottom","anchor":"start","frame":"bounds","dx":-1,"offset":-4,"fontSize":13,"fontWeight":"bold","color":"#000"},
  "spacing":7,"vconcat":[
  {"width":316,"height":163,"layer":[
   {"data":{"name":"km"},"transform":[{"filter":"datum.p === 'H'"}],"mark":{"type":"area","interpolate":"step-after","opacity":0.4},"encoding":{"x":{"field":"t","type":"quantitative","title":"time (year)","scale":{"domain":[-1,21],"nice":false,"zero":false},"axis":{"values":[0,5,10,15,20],"labelPadding":3,"titlePadding":6}},"y":{"field":"lo","type":"quantitative","title":"Overall Survival","scale":{"domain":[-0.05,1.05],"nice":false,"zero":false},"axis":{"values":[0,0.25,0.5,0.75,1],"format":".0%","labelPadding":4,"titlePadding":5}},"y2":{"field":"hi"},"fill":{"field":"g","type":"nominal","scale":{"domain":["(−)","(+)"],"range":["#254493","#e34d39"]},"legend":null}}},
   {"data":{"name":"km"},"transform":[{"filter":"datum.p === 'H'"}],"mark":{"type":"line","interpolate":"step-after","strokeWidth":1.2},"encoding":{"x":{"field":"t","type":"quantitative","title":"time (year)"},"y":{"field":"s","type":"quantitative","title":"Overall Survival"},"stroke":{"field":"g","type":"nominal","scale":{"domain":["(−)","(+)"],"range":["#20508c","#d11a3f"]},"legend":null}}},
   {"data":{"name":"cens"},"transform":[{"filter":"datum.p === 'H'"}],"mark":{"type":"point","shape":"M-1,0H1M0,-1V1","size":30,"strokeWidth":1,"filled":false,"opacity":1},"encoding":{"x":{"field":"t","type":"quantitative","title":"time (year)"},"y":{"field":"s","type":"quantitative","title":"Overall Survival"},"stroke":{"field":"g","type":"nominal","scale":{"domain":["(−)","(+)"],"range":["#20508c","#d11a3f"]},"legend":null}}},
   {"data":{"name":"med"},"transform":[{"filter":"datum.p === 'H'"}],"mark":{"type":"rule","strokeDash":[4,3],"strokeWidth":1,"color":"#333"},"encoding":{"x":{"field":"x1","type":"quantitative","title":"time (year)"},"y":{"field":"y1","type":"quantitative","title":"Overall Survival"},"x2":{"field":"x2"},"y2":{"field":"y2"}}},
   {"data":{"name":"pv"},"transform":[{"filter":"datum.p === 'H'"}],"mark":{"type":"text","text":"P","fontStyle":"italic","align":"left","baseline":"middle","fontSize":9,"color":"#222"},"encoding":{"x":{"datum":-0.3,"type":"quantitative","title":"time (year)"},"y":{"datum":0.05,"type":"quantitative","title":"Overall Survival"}}},
   {"data":{"name":"pv"},"transform":[{"filter":"datum.p === 'H'"}],"mark":{"type":"text","align":"left","baseline":"middle","fontSize":9,"dx":7,"color":"#222"},"encoding":{"x":{"datum":-0.3,"type":"quantitative","title":"time (year)"},"y":{"datum":0.05,"type":"quantitative","title":"Overall Survival"},"text":{"field":"txt"}}}
  ]},
  {"width":316,"height":31,"title":{"text":"Number at risk","anchor":"start","frame":"group","dx":-5,"offset":4,"fontSize":9,"fontWeight":"normal","color":"#222"},
   "data":{"name":"risk"},"transform":[{"filter":"datum.p === 'H'"}],"mark":{"type":"text","fontSize":8.8,"color":"#222"},
   "encoding":{"x":{"field":"t","type":"quantitative","title":"time (year)","scale":{"domain":[-1,21],"nice":false,"zero":false},"axis":{"values":[0,5,10,15,20],"labelPadding":4.5,"titlePadding":1.5}},"y":{"field":"g","type":"nominal","title":"PORT","scale":{"type":"point","domain":["(−)","(+)"],"padding":0.6},"axis":{"labelPadding":4,"titlePadding":4.5,"labelColor":"#4d4d4d"}},"text":{"field":"n"}}}
 ]}
],"spacing":16},
{"hconcat":[
 {"title":{"text":"I","orient":"bottom","anchor":"start","frame":"bounds","dx":-9,"offset":-8,"fontSize":13,"fontWeight":"bold","color":"#000"},
  "resolve":{"scale":{"fill":"independent","stroke":"independent"},"legend":{"fill":"independent","stroke":"independent"}},
  "spacing":7,"vconcat":[
  {"width":316,"height":163,"layer":[
   {"data":{"name":"km"},"transform":[{"filter":"datum.p === 'I'"}],"mark":{"type":"area","interpolate":"step-after","opacity":0.4},"encoding":{"x":{"field":"t","type":"quantitative","title":"time (year)","scale":{"domain":[-1,21],"nice":false,"zero":false},"axis":{"values":[0,5,10,15,20],"labelPadding":3,"titlePadding":6}},"y":{"field":"lo","type":"quantitative","title":"Disease-specific Survival","scale":{"domain":[-0.05,1.05],"nice":false,"zero":false},"axis":{"values":[0,0.25,0.5,0.75,1],"format":".0%","labelPadding":4,"titlePadding":-3.5}},"y2":{"field":"hi"},"fill":{"field":"g","type":"nominal","scale":{"domain":["(−)","(+)"],"range":["#254493","#e34d39"]},"legend":null}}},
   {"data":{"name":"km"},"transform":[{"filter":"datum.p === 'I'"}],"mark":{"type":"line","interpolate":"step-after","strokeWidth":1.2},"encoding":{"x":{"field":"t","type":"quantitative","title":"time (year)"},"y":{"field":"s","type":"quantitative","title":"Disease-specific Survival"},"stroke":{"field":"g","type":"nominal","scale":{"domain":["(−)","(+)"],"range":["#20508c","#d11a3f"]},"legend":null}}},
   {"data":{"name":"cens"},"transform":[{"filter":"datum.p === 'I'"}],"mark":{"type":"point","shape":"M-1,0H1M0,-1V1","size":30,"strokeWidth":1,"filled":false,"opacity":1},"encoding":{"x":{"field":"t","type":"quantitative","title":"time (year)"},"y":{"field":"s","type":"quantitative","title":"Disease-specific Survival"},"stroke":{"field":"g","type":"nominal","scale":{"domain":["(−)","(+)"],"range":["#20508c","#d11a3f"]},"legend":null}}},
   {"data":{"name":"pv"},"transform":[{"filter":"datum.p === 'I'"}],"mark":{"type":"text","text":"P","fontStyle":"italic","align":"left","baseline":"middle","fontSize":9,"color":"#222"},"encoding":{"x":{"datum":-0.3,"type":"quantitative","title":"time (year)"},"y":{"datum":0.05,"type":"quantitative","title":"Disease-specific Survival"}}},
   {"data":{"name":"pv"},"transform":[{"filter":"datum.p === 'I'"}],"mark":{"type":"text","align":"left","baseline":"middle","fontSize":9,"dx":7,"color":"#222"},"encoding":{"x":{"datum":-0.3,"type":"quantitative","title":"time (year)"},"y":{"datum":0.05,"type":"quantitative","title":"Disease-specific Survival"},"text":{"field":"txt"}}}
  ]},
  {"width":316,"height":31,"title":{"text":"Number at risk","anchor":"start","frame":"group","dx":-5,"offset":4,"fontSize":9,"fontWeight":"normal","color":"#222"},
   "layer":[
   {"data":{"name":"risk"},"transform":[{"filter":"datum.p === 'I'"}],"mark":{"type":"text","fontSize":8.8,"color":"#222"},
    "encoding":{"x":{"field":"t","type":"quantitative","title":"time (year)","scale":{"domain":[-1,21],"nice":false,"zero":false},"axis":{"values":[0,5,10,15,20],"labelPadding":4.5,"titlePadding":1.5}},"y":{"field":"g","type":"nominal","title":"PORT","scale":{"type":"point","domain":["(−)","(+)"],"padding":0.6},"axis":{"labelPadding":4,"titlePadding":3,"labelColor":"#4d4d4d"}},"text":{"field":"n"}}},
   {"data":{"name":"risk"},"transform":[{"filter":"false"}],"mark":{"type":"point","filled":true,"opacity":1,"shape":"M-1,-1H1V1H-1Z M-0.55,0H0.55 M0,-0.55V0.55","strokeWidth":0.8},
    "encoding":{"x":{"field":"t","type":"quantitative","title":"time (year)"},"y":{"field":"g","type":"nominal","title":"PORT"},
    "fill":{"field":"g","type":"nominal","scale":{"domain":["(−)","(+)"],"range":["#a8b4d4","#f4b8b0"]},"legend":{"orient":"bottom","direction":"horizontal","title":"PORT","titleOrient":"left","titleFontWeight":"normal","titleFontSize":9,"titleColor":"#222","titlePadding":7,"labelFontSize":9,"labelColor":"#222","labelOffset":4,"columnPadding":4,"offset":9,"symbolType":"M-1,-1H1V1H-1Z M-0.55,0H0.55 M0,-0.55V0.55","symbolSize":110,"symbolStrokeWidth":0.8}},
    "stroke":{"field":"g","type":"nominal","scale":{"domain":["(−)","(+)"],"range":["#20508c","#d11a3f"]},"legend":{"orient":"bottom","direction":"horizontal","title":"PORT","titleOrient":"left","titleFontWeight":"normal","titleFontSize":9,"titleColor":"#222","titlePadding":7,"labelFontSize":9,"labelColor":"#222","labelOffset":4,"columnPadding":4,"offset":9,"symbolType":"M-1,-1H1V1H-1Z M-0.55,0H0.55 M0,-0.55V0.55","symbolSize":110,"symbolStrokeWidth":0.8}}}}
   ]}
 ]},
 {"title":{"text":"J","orient":"bottom","anchor":"start","frame":"bounds","dx":-1,"offset":-8,"fontSize":13,"fontWeight":"bold","color":"#000"},
  "resolve":{"scale":{"fill":"independent","stroke":"independent"},"legend":{"fill":"independent","stroke":"independent"}},
  "spacing":7,"vconcat":[
  {"width":316,"height":163,"layer":[
   {"data":{"name":"km"},"transform":[{"filter":"datum.p === 'J'"}],"mark":{"type":"area","interpolate":"step-after","opacity":0.4},"encoding":{"x":{"field":"t","type":"quantitative","title":"time (year)","scale":{"domain":[-1,21],"nice":false,"zero":false},"axis":{"values":[0,5,10,15,20],"labelPadding":3,"titlePadding":6}},"y":{"field":"lo","type":"quantitative","title":"Overall Survival","scale":{"domain":[-0.05,1.05],"nice":false,"zero":false},"axis":{"values":[0,0.25,0.5,0.75,1],"format":".0%","labelPadding":4,"titlePadding":5}},"y2":{"field":"hi"},"fill":{"field":"g","type":"nominal","scale":{"domain":["(−)","(+)"],"range":["#254493","#e34d39"]},"legend":null}}},
   {"data":{"name":"km"},"transform":[{"filter":"datum.p === 'J'"}],"mark":{"type":"line","interpolate":"step-after","strokeWidth":1.2},"encoding":{"x":{"field":"t","type":"quantitative","title":"time (year)"},"y":{"field":"s","type":"quantitative","title":"Overall Survival"},"stroke":{"field":"g","type":"nominal","scale":{"domain":["(−)","(+)"],"range":["#20508c","#d11a3f"]},"legend":null}}},
   {"data":{"name":"cens"},"transform":[{"filter":"datum.p === 'J'"}],"mark":{"type":"point","shape":"M-1,0H1M0,-1V1","size":30,"strokeWidth":1,"filled":false,"opacity":1},"encoding":{"x":{"field":"t","type":"quantitative","title":"time (year)"},"y":{"field":"s","type":"quantitative","title":"Overall Survival"},"stroke":{"field":"g","type":"nominal","scale":{"domain":["(−)","(+)"],"range":["#20508c","#d11a3f"]},"legend":null}}},
   {"data":{"name":"med"},"transform":[{"filter":"datum.p === 'J'"}],"mark":{"type":"rule","strokeDash":[4,3],"strokeWidth":1,"color":"#333"},"encoding":{"x":{"field":"x1","type":"quantitative","title":"time (year)"},"y":{"field":"y1","type":"quantitative","title":"Overall Survival"},"x2":{"field":"x2"},"y2":{"field":"y2"}}},
   {"data":{"name":"pv"},"transform":[{"filter":"datum.p === 'J'"}],"mark":{"type":"text","text":"P","fontStyle":"italic","align":"left","baseline":"middle","fontSize":9,"color":"#222"},"encoding":{"x":{"datum":-0.3,"type":"quantitative","title":"time (year)"},"y":{"datum":0.05,"type":"quantitative","title":"Overall Survival"}}},
   {"data":{"name":"pv"},"transform":[{"filter":"datum.p === 'J'"}],"mark":{"type":"text","align":"left","baseline":"middle","fontSize":9,"dx":7,"color":"#222"},"encoding":{"x":{"datum":-0.3,"type":"quantitative","title":"time (year)"},"y":{"datum":0.05,"type":"quantitative","title":"Overall Survival"},"text":{"field":"txt"}}}
  ]},
  {"width":316,"height":31,"title":{"text":"Number at risk","anchor":"start","frame":"group","dx":-5,"offset":4,"fontSize":9,"fontWeight":"normal","color":"#222"},
   "layer":[
   {"data":{"name":"risk"},"transform":[{"filter":"datum.p === 'J'"}],"mark":{"type":"text","fontSize":8.8,"color":"#222"},
    "encoding":{"x":{"field":"t","type":"quantitative","title":"time (year)","scale":{"domain":[-1,21],"nice":false,"zero":false},"axis":{"values":[0,5,10,15,20],"labelPadding":4.5,"titlePadding":1.5}},"y":{"field":"g","type":"nominal","title":"PORT","scale":{"type":"point","domain":["(−)","(+)"],"padding":0.6},"axis":{"labelPadding":4,"titlePadding":4.5,"labelColor":"#4d4d4d"}},"text":{"field":"n"}}},
   {"data":{"name":"risk"},"transform":[{"filter":"false"}],"mark":{"type":"point","filled":true,"opacity":1,"shape":"M-1,-1H1V1H-1Z M-0.55,0H0.55 M0,-0.55V0.55","strokeWidth":0.8},
    "encoding":{"x":{"field":"t","type":"quantitative","title":"time (year)"},"y":{"field":"g","type":"nominal","title":"PORT"},
    "fill":{"field":"g","type":"nominal","scale":{"domain":["(−)","(+)"],"range":["#a8b4d4","#f4b8b0"]},"legend":{"orient":"bottom","direction":"horizontal","title":"PORT","titleOrient":"left","titleFontWeight":"normal","titleFontSize":9,"titleColor":"#222","titlePadding":7,"labelFontSize":9,"labelColor":"#222","labelOffset":4,"columnPadding":4,"offset":9,"symbolType":"M-1,-1H1V1H-1Z M-0.55,0H0.55 M0,-0.55V0.55","symbolSize":110,"symbolStrokeWidth":0.8}},
    "stroke":{"field":"g","type":"nominal","scale":{"domain":["(−)","(+)"],"range":["#20508c","#d11a3f"]},"legend":{"orient":"bottom","direction":"horizontal","title":"PORT","titleOrient":"left","titleFontWeight":"normal","titleFontSize":9,"titleColor":"#222","titlePadding":7,"labelFontSize":9,"labelColor":"#222","labelOffset":4,"columnPadding":4,"offset":9,"symbolType":"M-1,-1H1V1H-1Z M-0.55,0H0.55 M0,-0.55V0.55","symbolSize":110,"symbolStrokeWidth":0.8}}}}
   ]}
 ]}
],"spacing":16,"resolve":{"scale":{"fill":"independent","stroke":"independent"},"legend":{"fill":"independent","stroke":"independent"}}}
]
}
